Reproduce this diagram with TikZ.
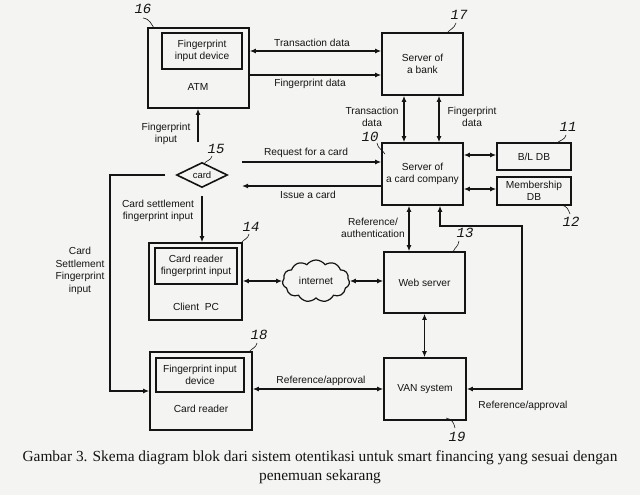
\documentclass[tikz,border=0pt]{standalone}
\usepackage{fontspec}
\setmainfont{Liberation Serif}
\newfontfamily\diaf{Liberation Sans}
\newfontfamily\numfam{Liberation Mono}
\usetikzlibrary{arrows.meta,shapes.geometric,shapes.symbols}
\definecolor{bg}{RGB}{244,244,242}
\definecolor{ink}{RGB}{20,20,20}
\begin{document}
\begin{tikzpicture}[x=1pt,y=-1pt,
  every node/.style={text=ink},
  box/.style={draw=ink, line width=1.6pt, inner sep=0pt, align=center, font=\diaf\fontsize{10.2}{12.5}\selectfont},
  inbox/.style={draw=ink, line width=1.4pt, inner sep=0pt, align=center, font=\diaf\fontsize{10.2}{12.5}\selectfont},
  lbl/.style={inner sep=0pt, align=center, font=\diaf\fontsize{10.2}{12.5}\selectfont},
  num/.style={inner sep=0pt, font=\numfam\itshape\fontsize{14}{14}\selectfont},
  lead/.style={draw=ink, line width=0.6pt},
  arr/.style={draw=ink, line width=1.2pt, -{Latex[length=6pt,width=5pt]}},
  darr/.style={draw=ink, line width=1.2pt, {Latex[length=6pt,width=5pt]}-{Latex[length=6pt,width=5pt]}}]
\fill[bg] (0,0) rectangle (640,495);
\useasboundingbox (0,0) rectangle (640,495);

% boxes
\node[box, minimum width=101pt, minimum height=80pt] (atm) at (198.5,68) {};
\node[inbox, minimum width=80pt, minimum height=36pt] (atmin) at (202,51) {Fingerprint\\input device};
\node[lbl] (atmlbl) at (198,87) {ATM};

\node[box, minimum width=81pt, minimum height=62pt] (bank) at (422.5,64) {Server of\\a bank};
\node[box, minimum width=81pt, minimum height=62pt] (cardco) at (422.5,174) {Server of\\a card company};
\node[box, minimum width=74pt, minimum height=27pt] (bldb) at (534,156.5) {B/L DB};
\node[box, minimum width=74pt, minimum height=28pt] (memdb) at (534,191) {Membership\\DB};

\node[draw=ink, line width=1.6pt, diamond, aspect=2, minimum width=51pt, minimum height=25pt, inner sep=0pt, font=\diaf\fontsize{9.5}{10}\selectfont] (card) at (202,175) {card};

\node[box, minimum width=93pt, minimum height=77pt] (clientpc) at (195.5,281.5) {};
\node[inbox, minimum width=82pt, minimum height=36pt] (clientin) at (196,266) {Card reader\\fingerprint input};
\node[lbl] (clientlbl) at (196,307) {Client\ \ PC};

\node[draw=ink, line width=1.2pt, cloud, cloud puffs=11, cloud puff arc=110, aspect=1.6, minimum width=67pt, minimum height=42pt, inner sep=0pt, font=\diaf\fontsize{10.2}{12.5}\selectfont] (cloud) at (316,281) {internet};

\node[box, minimum width=81pt, minimum height=61pt] (web) at (424.5,282.5) {Web server};
\node[box, minimum width=82pt, minimum height=62pt] (van) at (425,389) {VAN system};

\node[box, minimum width=102pt, minimum height=78pt] (reader) at (201,391) {};
\node[inbox, minimum width=88pt, minimum height=34pt] (readerin) at (200,375) {Fingerprint input\\device};
\node[lbl] (readerlbl) at (201,409) {Card reader};

% connectors top
\draw[darr] ([yshift=17pt]atm.east) -- ([yshift=17pt]atm.east -| bank.west);
\node[lbl] (ltd) at (312,43) {Transaction data};
\draw[arr] ([yshift=-7pt]atm.east) -- ([yshift=-7pt]atm.east -| bank.west);
\node[lbl] (lfd) at (310,84) {Fingerprint data};

\draw[darr] ([xshift=-18.5pt]bank.south) -- ([xshift=-18.5pt]cardco.north);
\draw[darr] ([xshift=16.5pt]bank.south) -- ([xshift=16.5pt]cardco.north);
\node[lbl] (ltd2) at (372,117) {Transaction\\data};
\node[lbl] (lfd2) at (472,117) {Fingerprint\\data};

\draw[darr] ([yshift=19pt]cardco.east) -- ([yshift=19pt]cardco.east -| bldb.west);
\draw[darr] ([yshift=-15pt]cardco.east) -- ([yshift=-15pt]cardco.east -| memdb.west);

% card requests
\coordinate (reqs) at (242,162);
\coordinate (iss) at (242,186);
\draw[arr] (reqs) -- (reqs -| cardco.west);
\draw[arr] (iss -| cardco.west) -- (iss);
\node[lbl] (lreq) at (306,153) {Request for a card};
\node[lbl] (liss) at (308,195) {Issue a card};

% fingerprint input to ATM
\coordinate (fpi) at (198,142);
\draw[arr] (fpi) -- (fpi |- atm.south);
\node[lbl] (lfpi) at (166,134) {Fingerprint\\input};

% card settlement to client pc
\coordinate (cs) at (202,196);
\draw[arr] (cs) -- (cs |- clientpc.north);
\node[lbl] (lcs) at (158,211) {Card settlement\\fingerprint input};

% left loop
\coordinate (ll) at (165,175);
\coordinate (llc) at (110,175);
\draw[arr] (ll) -- (llc) |- (reader.west);
\node[lbl] (lll) at (80,271) {Card\\Settlement\\Fingerprint\\input};

% internet
\draw[darr] (clientpc.east |- cloud.west) -- (cloud.west);
\draw[darr] (cloud.east) -- (cloud.east -| web.west);

% reference/authentication
\draw[darr] ([xshift=-13.5pt]cardco.south) -- ([xshift=-13.5pt]cardco.south |- web.north);
\node[lbl] (lra) at (373,228) {Reference/\\authentication};

% right loop
\coordinate (rl) at (522,226);
\draw[darr] (van.east) -| (rl) -| ([xshift=17.5pt]cardco.south);
\node[lbl] (lrap) at (523,406) {Reference/approval};

% web - van
\draw[darr] (web.south) -- (web.south |- van.north);

% card reader - van
\draw[darr] (reader.east |- van.west) -- (van.west);
\node[lbl] (lrap2) at (321,381) {Reference/approval};

% reference numbers
\node[num] (n16) at (143,9) {16};
\draw[lead] (143,18) .. controls (150,19) and (151,24) .. (154,28);
\node[num] (n17) at (459,15) {17};
\draw[lead] (456,23) .. controls (454,29) and (450,29) .. (447,33);
\node[num] (n10) at (370,137) {10};
\draw[lead] (377,143) .. controls (378,149) and (382,149) .. (385,154);
\node[num] (n11) at (568,127) {11};
\draw[lead] (566,135) .. controls (565,140) and (560,140) .. (557,143);
\node[num] (n12) at (571,222) {12};
\draw[lead] (561,205) .. controls (567,206) and (568,209) .. (570,214);
\node[num] (n15) at (216,149) {15};
\draw[lead] (212,156) .. controls (211,161) and (206,160) .. (204,164);
\node[num] (n14) at (251,227) {14};
\draw[lead] (249,234) .. controls (248,239) and (244,239) .. (241,243);
\node[num] (n13) at (465,233) {13};
\draw[lead] (459,241) .. controls (458,247) and (455,247) .. (453,252);
\node[num] (n18) at (259,335) {18};
\draw[lead] (257,343) .. controls (256,348) and (252,348) .. (249,352);
\node[num] (n19) at (457,437) {19};
\draw[lead] (446,418) .. controls (452,419) and (454,423) .. (455,428);

% caption
\node[inner sep=0pt, font=\fontsize{15.4}{19}\selectfont, align=center] (cap) at (320,467) {Gambar 3. Skema diagram blok dari sistem otentikasi untuk smart financing yang sesuai dengan\\penemuan sekarang};
\end{tikzpicture}
\end{document}
